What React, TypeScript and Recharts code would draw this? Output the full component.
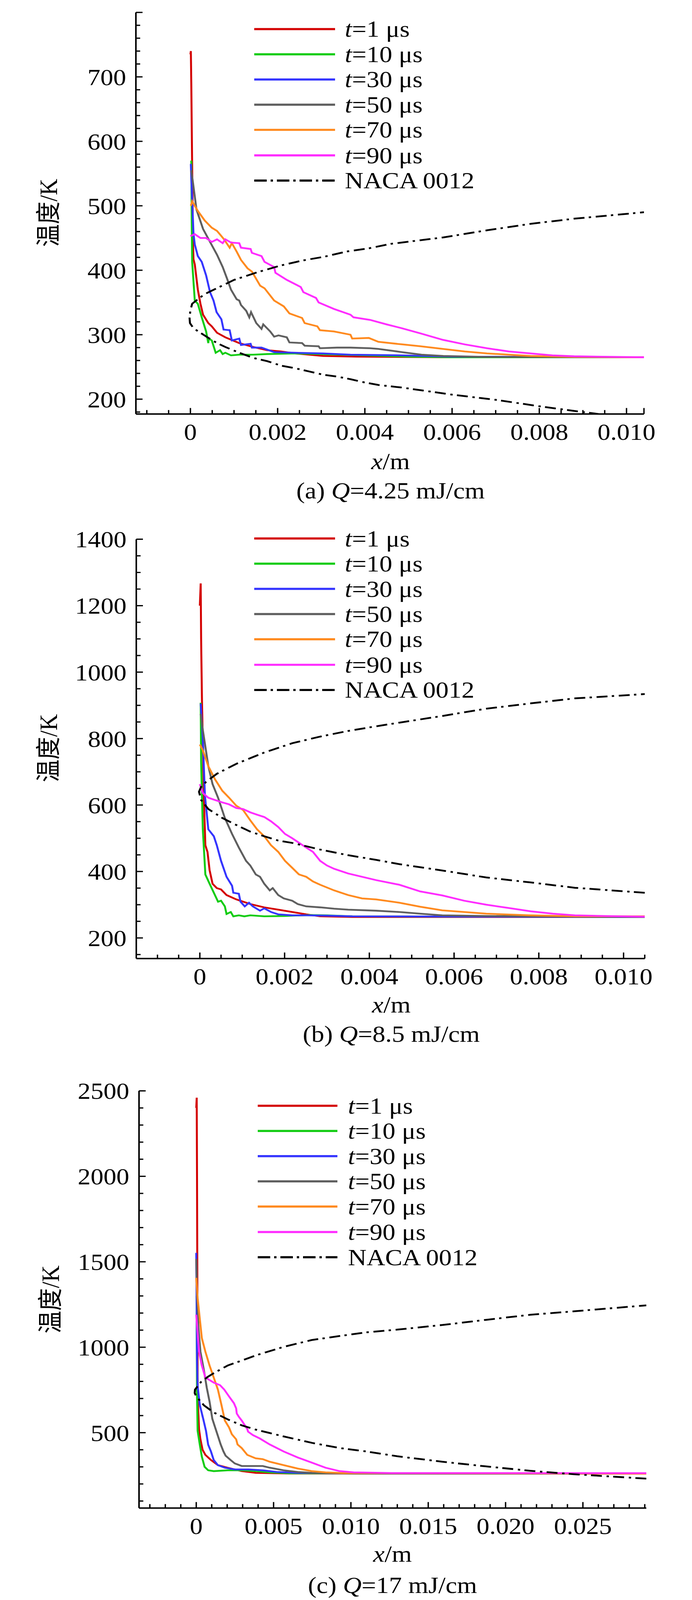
import { LineChart, Line, XAxis, YAxis, Legend } from 'recharts';

const FONT = '"Liberation Serif", "Times New Roman", "Noto Sans CJK SC", serif';
const PAGE_W = 1772;
const PAGE_H = 4508;

type Pt = [number, number];

// legend / series
const legendTimes = ['1', '10', '30', '50', '70', '90'];
const seriesColors = ['#d40000', '#14cc14', '#3535ff', '#5f5f5f', '#ff8a1f', '#ff2cff'];

// ---------- (a) Q=4.25 mJ/cm ----------
const aT1: Pt[] = [
  [0, 735], [0.00001, 740], [0.00002, 690], [0.00004, 560], [0.00006, 440], [0.00007, 417],
  [0.0001, 409], [0.00017, 370], [0.00023, 348], [0.00029, 331], [0.00041, 318], [0.00049, 313],
  [0.00061, 303], [0.0008, 296], [0.00112, 287], [0.00144, 281], [0.00176, 276], [0.00208, 274],
  [0.0024, 271], [0.00272, 269], [0.00304, 267], [0.0038, 266], [0.006, 265], [0.0104, 265],
];
const aT10: Pt[] = [
  [0.00002, 570], [0.00003, 480], [0.00004, 413], [0.0001, 353], [0.00017, 348], [0.00026, 327],
  [0.00036, 305], [0.00041, 287], [0.00042, 294], [0.00049, 291], [0.00058, 272], [0.00068, 276],
  [0.00074, 270], [0.0008, 272], [0.00093, 268], [0.00112, 269], [0.00144, 269], [0.00176, 270],
  [0.0024, 271], [0.003, 270], [0.004, 268], [0.005, 266], [0.006, 265], [0.0104, 265],
];
const aT30: Pt[] = [
  [0.00001, 565], [0.00002, 544], [0.00007, 457], [0.0001, 440], [0.00017, 422], [0.00026, 413],
  [0.00036, 392], [0.00045, 366], [0.00053, 353], [0.0006, 335], [0.00071, 324], [0.00076, 308],
  [0.0009, 307], [0.00095, 291], [0.00112, 294], [0.00116, 284], [0.00138, 286], [0.00141, 280],
  [0.00163, 280], [0.00192, 273], [0.0024, 272], [0.00304, 271], [0.00367, 269], [0.00485, 268],
  [0.006, 266], [0.0104, 265],
];
const aT50: Pt[] = [
  [0.00002, 555], [0.00005, 540], [0.00014, 494], [0.00029, 464], [0.00045, 444], [0.00061, 424],
  [0.00074, 405], [0.00084, 387], [0.00093, 370], [0.00106, 355], [0.00112, 353], [0.00116, 346],
  [0.00128, 337], [0.00135, 327], [0.00139, 335], [0.00151, 318], [0.00163, 309], [0.00167, 316],
  [0.00183, 305], [0.00192, 297], [0.00202, 299], [0.00221, 296], [0.00227, 288], [0.00256, 287],
  [0.00262, 283], [0.00294, 282], [0.00297, 279], [0.00336, 280], [0.00367, 280], [0.00412, 279],
  [0.00431, 278], [0.00485, 273], [0.0053, 269], [0.0058, 267], [0.0068, 265.5], [0.0104, 265],
];
const aT70: Pt[] = [
  [0.00001, 500], [0.00004, 507], [0.00017, 492], [0.00033, 477], [0.00049, 466], [0.00061, 461],
  [0.00071, 453], [0.00077, 448], [0.0009, 435], [0.00095, 442], [0.00106, 429], [0.00116, 416],
  [0.00131, 403], [0.00141, 398], [0.0016, 376], [0.0017, 372], [0.00192, 353], [0.00214, 344],
  [0.00227, 333], [0.00256, 326], [0.00262, 318], [0.00291, 313], [0.00297, 307], [0.00329, 305],
  [0.00367, 300], [0.00371, 294], [0.00409, 295], [0.00431, 289], [0.00485, 285], [0.00528, 282],
  [0.00579, 278], [0.00629, 274], [0.0068, 271], [0.0078, 267], [0.0088, 265.5], [0.0104, 265],
];
const aT90: Pt[] = [
  [0, 453], [0.0001, 456], [0.00023, 450], [0.00036, 450], [0.00049, 444], [0.00061, 448],
  [0.00074, 442], [0.0008, 448], [0.00093, 443], [0.00112, 442], [0.00116, 435], [0.00138, 433],
  [0.00141, 427], [0.00163, 422], [0.0017, 413], [0.00192, 405], [0.00195, 396], [0.00221, 385],
  [0.00253, 374], [0.00259, 366], [0.00288, 357], [0.00294, 350], [0.00329, 340], [0.00367, 331],
  [0.00374, 327], [0.00412, 323], [0.0045, 316], [0.00485, 310], [0.00528, 302], [0.00579, 292],
  [0.00629, 285], [0.0068, 279], [0.0073, 274], [0.0078, 271], [0.0083, 268], [0.0088, 266.5],
  [0.0098, 265.5], [0.0104, 265],
];
const aNaca: Pt[] = [
  [0.0104, 168], [0.009, 180], [0.008, 189], [0.007, 199], [0.006, 207], [0.00485, 218],
  [0.00431, 222], [0.00399, 226], [0.00367, 231], [0.00336, 235], [0.00304, 238], [0.00272, 243],
  [0.0024, 248], [0.00208, 252], [0.00176, 259], [0.00144, 264], [0.00112, 272], [0.0008, 281],
  [0.00061, 287], [0.00039, 296], [0.00023, 303], [0.00007, 310], [-0.00001, 318], [-0.00002, 326],
  [0, 338], [0.00004, 348], [0.00017, 355], [0.00033, 363], [0.001, 385], [0.00154, 397],
  [0.00205, 407], [0.00256, 415], [0.00307, 421], [0.00358, 429], [0.00409, 434], [0.0046, 441],
  [0.0058, 451], [0.0068, 462], [0.0078, 472], [0.0088, 480], [0.0104, 490],
];
const aXMajor = [0, 0.002, 0.004, 0.006, 0.008, 0.01];
const aYMajor = [200, 300, 400, 500, 600, 700, 800];
const aYLabels = [200, 300, 400, 500, 600, 700];

// ---------- (b) Q=8.5 mJ/cm ----------
const bT1: Pt[] = [
  [0, 1200], [0.00002, 1267], [0.00003, 1100], [0.00005, 915], [0.0001, 600], [0.00013, 479],
  [0.00018, 459], [0.00023, 404], [0.0003, 363], [0.0004, 350], [0.0005, 346], [0.00063, 329],
  [0.00086, 316], [0.00119, 302], [0.00152, 292], [0.00185, 285], [0.00218, 278], [0.00251, 271],
  [0.00284, 265], [0.0036, 263], [0.0105, 263],
];
const bT10: Pt[] = [
  [0.00002, 908], [0.00003, 731], [0.00007, 527], [0.00013, 391], [0.00023, 363], [0.00033, 336],
  [0.00043, 309], [0.0005, 312], [0.00059, 295], [0.00063, 272], [0.00073, 278], [0.00079, 265],
  [0.00092, 268], [0.00105, 265], [0.00119, 268], [0.00152, 265], [0.002, 266], [0.0026, 269],
  [0.003, 268], [0.0036, 265], [0.0105, 263],
];
const bT30: Pt[] = [
  [0.00002, 905], [0.00007, 799], [0.00012, 629], [0.0002, 527], [0.00033, 506], [0.0004, 479],
  [0.0005, 432], [0.00063, 384], [0.00076, 357], [0.00079, 336], [0.00092, 333], [0.00096, 309],
  [0.00106, 295], [0.00116, 306], [0.00125, 295], [0.00142, 282], [0.00152, 289], [0.00168, 278],
  [0.00185, 271], [0.00218, 268], [0.00251, 268], [0.003, 267], [0.0036, 265], [0.0105, 263],
];
const bT50: Pt[] = [
  [0.00002, 874], [0.00007, 826], [0.0002, 717], [0.0003, 663], [0.00043, 622], [0.00059, 561],
  [0.00076, 513], [0.00092, 472], [0.00109, 432], [0.00119, 418], [0.00132, 391], [0.00142, 384],
  [0.00152, 363], [0.00165, 343], [0.00172, 350], [0.00185, 329], [0.00198, 319], [0.00218, 312],
  [0.00231, 302], [0.00251, 295], [0.00284, 292], [0.00317, 288], [0.0035, 285], [0.00416, 282],
  [0.00471, 278], [0.0052, 273], [0.00572, 268], [0.00676, 266], [0.0105, 263],
];
const bT70: Pt[] = [
  [0, 782], [0.00007, 765], [0.0002, 717], [0.00036, 677], [0.00053, 643], [0.00069, 622],
  [0.00086, 598], [0.00102, 585], [0.00119, 554], [0.00135, 527], [0.00152, 506], [0.00168, 479],
  [0.00185, 459], [0.00201, 432], [0.00218, 411], [0.00234, 391], [0.00251, 384], [0.00267, 370],
  [0.00284, 360], [0.00317, 343], [0.0035, 329], [0.00383, 319], [0.00416, 316], [0.00471, 306],
  [0.0052, 294], [0.00572, 283], [0.00624, 278], [0.00676, 273], [0.00781, 268], [0.00885, 265], [0.0105, 265],
];
const bT90: Pt[] = [
  [0, 663], [0.00007, 636], [0.0002, 622], [0.00036, 615], [0.00053, 608], [0.00069, 602],
  [0.00086, 591], [0.00102, 588], [0.00119, 578], [0.00135, 571], [0.00152, 564], [0.00168, 551],
  [0.00185, 534], [0.00201, 513], [0.00218, 500], [0.00251, 472], [0.00267, 459], [0.00284, 432],
  [0.003, 418], [0.00317, 408], [0.0035, 394], [0.00383, 384], [0.00416, 374], [0.00471, 360],
  [0.0052, 340], [0.00572, 328], [0.00624, 312], [0.00676, 300], [0.00729, 290], [0.00781, 280],
  [0.00833, 273], [0.00885, 268], [0.0099, 265], [0.0105, 264],
];
const bNaca: Pt[] = [
  [0.0105, 336], [0.00885, 351], [0.00781, 367], [0.00676, 382], [0.00572, 403], [0.00471, 422],
  [0.00416, 435], [0.0035, 449], [0.00284, 466], [0.00218, 486], [0.00185, 493], [0.00152, 506],
  [0.00119, 520], [0.00086, 540], [0.00053, 561], [0.0002, 588], [0.00003, 615], [-0.00002, 640],
  [0.00003, 655], [0.00015, 670], [0.0004, 694], [0.00086, 724], [0.00119, 741], [0.00152, 758],
  [0.00218, 786], [0.00284, 806], [0.0035, 823], [0.00416, 837], [0.00471, 848], [0.00572, 868],
  [0.00676, 890], [0.00781, 906], [0.00885, 921], [0.0105, 934],
];
const bXMajor = [0, 0.002, 0.004, 0.006, 0.008, 0.01];
const bYMajor = [200, 400, 600, 800, 1000, 1200, 1400];

// ---------- (c) Q=17 mJ/cm ----------
const cT1: Pt[] = [
  [0, 2400], [0.00003, 2460], [0.00005, 2000], [0.00007, 1400], [0.00009, 712], [0.00018, 520],
  [0.00027, 461], [0.00041, 400], [0.00059, 370], [0.00095, 340], [0.0014, 310], [0.00203, 295],
  [0.00294, 275], [0.00384, 265], [0.006, 261], [0.0291, 260],
];
const cT10: Pt[] = [
  [0.00002, 1300], [0.00005, 712], [0.00009, 511], [0.00023, 430], [0.00036, 360], [0.00054, 300],
  [0.00077, 280], [0.00113, 275], [0.00203, 280], [0.00294, 280], [0.00384, 275], [0.00475, 268],
  [0.006, 262], [0.0291, 260],
];
const cT30: Pt[] = [
  [0, 1552], [0.00003, 1215], [0.00005, 913], [0.00009, 773], [0.00023, 662], [0.00045, 581],
  [0.00063, 511], [0.00077, 430], [0.00095, 390], [0.00113, 340], [0.0014, 310], [0.00185, 295],
  [0.00249, 285], [0.00339, 285], [0.0043, 280], [0.0052, 270], [0.00656, 265], [0.01, 262], [0.0291, 260],
];
const cT50: Pt[] = [
  [0, 1517], [0.00005, 1316], [0.00014, 1115], [0.00027, 974], [0.0005, 863], [0.00068, 763],
  [0.00086, 682], [0.00104, 581], [0.00122, 531], [0.0014, 481], [0.00158, 431], [0.00176, 390],
  [0.0019, 365], [0.00222, 340], [0.00249, 320], [0.00294, 305], [0.0043, 305], [0.00475, 295],
  [0.00565, 280], [0.00656, 270], [0.0075, 265], [0.0102, 261], [0.0291, 260],
];
const cT70: Pt[] = [
  [0, 1406], [0.00009, 1286], [0.00023, 1165], [0.00036, 1054], [0.00059, 974], [0.00086, 893],
  [0.00113, 823], [0.0014, 752], [0.00163, 662], [0.00185, 571], [0.00212, 531], [0.0023, 491],
  [0.00258, 461], [0.00267, 431], [0.00294, 410], [0.0033, 370], [0.00384, 350], [0.0043, 345],
  [0.00475, 330], [0.00565, 310], [0.00656, 290], [0.00746, 275], [0.00836, 268], [0.0095, 264], [0.0291, 260],
];
const cT90: Pt[] = [
  [0, 1190], [0.00018, 974], [0.00036, 893], [0.00059, 823], [0.00086, 808], [0.00113, 793],
  [0.00154, 778], [0.00181, 752], [0.00212, 712], [0.00244, 672], [0.00258, 642], [0.00262, 612],
  [0.00276, 592], [0.00294, 571], [0.00312, 546], [0.0033, 521], [0.00335, 506], [0.00366, 486],
  [0.00411, 466], [0.00475, 431], [0.00565, 390], [0.00656, 355], [0.00746, 325], [0.00836, 295],
  [0.00927, 275], [0.01017, 268], [0.0126, 264], [0.0291, 263],
];
const cNaca: Pt[] = [
  [0.0291, 231], [0.0244, 257], [0.0216, 277], [0.0187, 303], [0.0159, 330], [0.013, 362],
  [0.011, 390], [0.0093, 410], [0.0075, 440], [0.00565, 478], [0.00475, 498], [0.00384, 518],
  [0.00294, 543], [0.00203, 578], [0.00113, 618], [0.0005, 660], [0, 712], [-0.0001, 732],
  [-0.00008, 752], [0.00032, 798], [0.00077, 828], [0.00113, 848], [0.00203, 893], [0.00294, 922],
  [0.00384, 952], [0.00565, 1002], [0.00746, 1042], [0.0093, 1066], [0.011, 1087], [0.013, 1103],
  [0.0159, 1130], [0.0187, 1160], [0.0216, 1190], [0.0244, 1210], [0.0291, 1245],
];
const cXMajor = [0, 0.005, 0.01, 0.015, 0.02, 0.025];
const cYMajor = [500, 1000, 1500, 2000, 2500];

const range = (a: number, b: number, step: number) => {
  const out: number[] = [];
  for (let k = 0; a + k * step <= b + 1e-12; k++) out.push(Math.round((a + k * step) * 1e7) / 1e7);
  return out;
};
const has = (arr: number[], v: number) => arr.some((m) => Math.abs(m - v) < 1e-9);
const toRows = (pts: Pt[]) => pts.map(([x, T]) => ({ x, T }));
const fmtX = (v: number) => (Math.abs(v) < 1e-12 ? '0' : v.toFixed(3));

interface Panel {
  tag: string;
  q: string;
  top: number;
  height: number;
  plotLeft: number;
  plotRight: number;
  plotTop: number;
  plotBottom: number;
  xDomain: [number, number];
  yDomain: [number, number];
  xMajor: number[];
  xMinor: number[];
  xEnd: number[];
  yMajor: number[];
  yLabels: number[];
  yMinor: number[];
  curves: Pt[][];
  naca: Pt[];
  legendLeft: number;
  legendTop: number;
  legendLine: number;
  legendGap: number;
  yTitle: [number, number];
  xTitle: [number, number];
  caption: [number, number];
}

const panels: Panel[] = [
  {
    tag: '(a)', q: '=4.25 mJ/cm', top: 0, height: 1290,
    plotLeft: 348, plotRight: 1649, plotTop: 35, plotBottom: 1167,
    xDomain: [-0.00125, 0.0104], yDomain: [177, 800],
    xMajor: aXMajor, xMinor: range(-0.001, 0.01, 0.0005), xEnd: [0.0104],
    yMajor: aYMajor, yLabels: aYLabels, yMinor: range(180, 800, 20),
    curves: [aT1, aT10, aT30, aT50, aT70, aT90], naca: aNaca,
    legendLeft: 651, legendTop: 46, legendLine: 207, legendGap: 25,
    yTitle: [125, 600], xTitle: [1000, 1300], caption: [1000, 1383],
  },
  {
    tag: '(b)', q: '=8.5 mJ/cm', top: 1450, height: 1370,
    plotLeft: 349, plotRight: 1651, plotTop: 1520, plotBottom: 2702,
    xDomain: [-0.0015, 0.0105], yDomain: [138, 1400],
    xMajor: bXMajor, xMinor: range(-0.001, 0.0105, 0.0005), xEnd: [],
    yMajor: bYMajor, yLabels: bYMajor, yMinor: range(150, 1400, 50),
    curves: [bT1, bT10, bT30, bT50, bT70, bT90], naca: bNaca,
    legendLeft: 651, legendTop: 32, legendLine: 207, legendGap: 25,
    yTitle: [125, 2109], xTitle: [1002, 2832], caption: [1002, 2915],
  },
  {
    tag: '(c)', q: '=17 mJ/cm', top: 3000, height: 1360,
    plotLeft: 356, plotRight: 1655, plotTop: 3075, plotBottom: 4251,
    xDomain: [-0.0037, 0.0291], yDomain: [59, 2500],
    xMajor: cXMajor, xMinor: range(-0.003, 0.029, 0.001), xEnd: [],
    yMajor: cYMajor, yLabels: cYMajor, yMinor: range(100, 2500, 100),
    curves: [cT1, cT10, cT30, cT50, cT70, cT90], naca: cNaca,
    legendLeft: 660, legendTop: 81, legendLine: 204, legendGap: 27,
    yTitle: [130, 3663], xTitle: [1005, 4380], caption: [1005, 4468],
  },
];

const renderXTick = (t: any, p: Panel) => {
  const v = Number(t.payload.value);
  const labeled = has(p.xMajor, v);
  const major = labeled || has(p.xEnd, v);
  return (
    <g>
      <line x1={t.x} x2={t.x} y1={t.y} y2={t.y - (major ? 17 : 11)} stroke="#000" strokeWidth={3.5} />
      {labeled && (
        <text x={t.x} y={t.y + 73} textAnchor="middle" fontSize={66} fontFamily={FONT} fill="#000">
          {fmtX(v)}
        </text>
      )}
    </g>
  );
};

const renderYTick = (t: any, p: Panel) => {
  const v = Number(t.payload.value);
  const major = has(p.yMajor, v);
  const labeled = has(p.yLabels, v);
  return (
    <g>
      <line x1={t.x} x2={t.x + (major ? 17 : 11)} y1={t.y} y2={t.y} stroke="#000" strokeWidth={3.5} />
      {labeled && (
        <text x={t.x - 25} y={t.y + 23} textAnchor="end" fontSize={66} fontFamily={FONT} fill="#000">
          {v}
        </text>
      )}
    </g>
  );
};

const LegendBox = ({ lineLen, gap }: { lineLen: number; gap: number }) => {
  const rows = [
    ...legendTimes.map((t, i) => ({ key: t, color: seriesColors[i], dash: undefined as string | undefined, label: <><i>t</i>={t} μs</> })),
    { key: 'naca', color: '#000', dash: '32 10 6 10', label: <>NACA 0012</> },
  ];
  return (
    <div style={{ fontFamily: FONT, fontSize: 66, color: '#000' }}>
      {rows.map((r) => (
        <div key={r.key} style={{ display: 'flex', alignItems: 'center', height: 71.2, whiteSpace: 'nowrap' }}>
          <svg width={lineLen} height={10} style={{ display: 'block' }}>
            <line x1={0} x2={lineLen} y1={5} y2={5} stroke={r.color} strokeWidth={6} strokeDasharray={r.dash} />
          </svg>
          <span style={{ marginLeft: gap, lineHeight: 1 }}>{r.label}</span>
        </div>
      ))}
    </div>
  );
};

const centered = (cx: number, cy: number, extra: string = ''): React.CSSProperties => ({
  position: 'absolute',
  left: cx,
  top: cy,
  transform: `translate(-50%, -50%)${extra}`,
  whiteSpace: 'nowrap',
  lineHeight: 1,
  fontFamily: FONT,
  color: '#000',
});

const PanelChart = ({ p }: { p: Panel }) => {
  const xTicks = Array.from(new Set([...p.xMinor, ...p.xMajor, ...p.xEnd])).sort((m, n) => m - n);
  const yTicks = Array.from(new Set([...p.yMinor, ...p.yMajor])).sort((m, n) => m - n);
  return (
    <>
      <div style={{ position: 'absolute', left: 0, top: p.top }}>
        <LineChart
          width={PAGE_W}
          height={p.height}
          margin={{ top: p.plotTop - p.top, right: PAGE_W - p.plotRight, bottom: 0, left: 0 }}
        >
          <XAxis
            type="number"
            dataKey="x"
            domain={p.xDomain}
            allowDataOverflow
            ticks={xTicks}
            interval={0}
            tickSize={0}
            tickMargin={0}
            tickLine={false}
            axisLine={{ stroke: '#000', strokeWidth: 4 }}
            height={p.top + p.height - p.plotBottom}
            tick={(t: any) => renderXTick(t, p)}
          />
          <YAxis
            type="number"
            domain={p.yDomain}
            allowDataOverflow
            ticks={yTicks}
            interval={0}
            tickSize={0}
            tickMargin={0}
            tickLine={false}
            axisLine={{ stroke: '#000', strokeWidth: 4 }}
            width={p.plotLeft}
            tick={(t: any) => renderYTick(t, p)}
          />
          {p.curves.map((c, i) => (
            <Line
              key={legendTimes[i]}
              data={toRows(c)}
              dataKey="T"
              type="linear"
              stroke={seriesColors[i]}
              strokeWidth={5}
              dot={false}
              activeDot={false}
              isAnimationActive={false}
            />
          ))}
          <Line
            data={toRows(p.naca)}
            dataKey="T"
            type="linear"
            stroke="#000"
            strokeWidth={5}
            strokeDasharray="28 11 6 12"
            dot={false}
            activeDot={false}
            isAnimationActive={false}
          />
          <Legend
            layout="vertical"
            align="center"
            verticalAlign="middle"
            wrapperStyle={{ left: p.legendLeft, top: p.legendTop, width: 'auto' }}
            content={() => <LegendBox lineLen={p.legendLine} gap={p.legendGap} />}
          />
        </LineChart>
      </div>
      <div style={{ ...centered(p.yTitle[0], p.yTitle[1], ' rotate(-90deg)'), fontSize: 64 }}>温度/K</div>
      <div style={{ ...centered(p.xTitle[0], p.xTitle[1]), fontSize: 66 }}>
        <i>x</i>/m
      </div>
      <div style={{ ...centered(p.caption[0], p.caption[1]), fontSize: 66 }}>
        {p.tag} <i>Q</i>
        {p.q}
      </div>
    </>
  );
};

export default function App() {
  // the visible viewport can be shorter than the page; squeeze the layout vertically so nothing is cut
  const vh = typeof window !== 'undefined' && window.innerHeight > 1000 ? window.innerHeight : PAGE_H;
  const sy = Math.min(1, (vh - 2) / PAGE_H);
  return (
    <div style={{ position: 'absolute', left: 0, top: 0, width: PAGE_W, height: PAGE_H * sy, overflow: 'hidden', background: '#fff' }}>
      <div style={{ position: 'absolute', left: 0, top: 0, width: PAGE_W, height: PAGE_H, transform: `scaleY(${sy})`, transformOrigin: '0 0' }}>
        {panels.map((p) => (
          <PanelChart key={p.tag} p={p} />
        ))}
      </div>
    </div>
  );
}
